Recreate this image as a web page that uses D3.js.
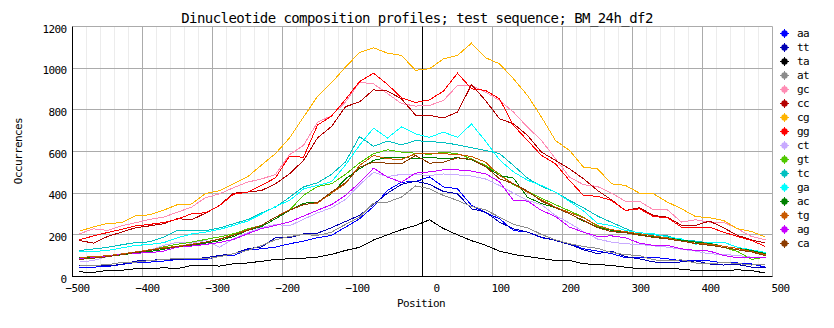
<!DOCTYPE html>
<html>
<head>
<meta charset="utf-8">
<script src="https://cdn.jsdelivr.net/npm/d3@7"></script>
<style>
  html, body { margin: 0; padding: 0; background: #fff; }
  svg { display: block; }
  text { font-family: "DejaVu Sans Mono", "Liberation Mono", monospace; fill: #000; }
</style>
</head>
<body>
<svg id="chart" width="834" height="328"></svg>
<script>
// Window centres (bp relative to the reference position)
const positions = [-490,-470,-450,-430,-410,-390,-370,-350,-330,-310,
                   -290,-270,-250,-230,-210,-190,-170,-150,-130,-110,
                   -90,-70,-50,-30,-10,10,30,50,70,90,
                   110,130,150,170,190,210,230,250,270,290,
                   310,330,350,370,390,410,430,450,470,490];

const dinucleotides = ["aa","tt","ta","at","gc","cc","cg","gg","ct","gt","tc","ga","ac","tg","ag","ca"];
const colors = ["#0000ff","#0000b4","#000000","#8c8c8c","#ff8cb4","#b40000","#ffb400","#ff0000",
                "#c8aaff","#50c800","#00c0c0","#00ffff","#008000","#c85a00","#c800ff","#8c3c00"];

const aa = [42,45,48,58,67,69,74,82,83,80,99,101,128,133,141,157,170,186,197,237,277,336,413,453,455,
            478,430,421,341,307,277,221,213,186,176,157,133,122,110,90,90,92,85,75,78,75,65,65,60,45];
const tt = [53,54,51,58,74,78,81,83,85,90,101,109,133,142,186,186,205,208,234,264,293,346,400,442,458,
            442,408,397,325,309,261,229,213,189,173,154,128,110,122,95,85,70,65,70,75,60,55,58,45,42];
const ta = [22,20,29,30,37,37,42,38,53,53,50,61,65,73,82,85,88,93,106,125,140,175,200,225,245,
            272,230,200,172,150,122,106,96,86,77,77,61,58,53,45,37,37,40,35,29,29,29,32,29,16];
const at = [53,53,57,67,69,76,82,86,86,85,95,110,125,149,176,192,202,197,213,250,285,352,357,381,435,
            421,389,365,336,320,285,250,234,202,176,157,144,135,115,105,100,80,75,80,65,60,68,62,55,60];
const gc = [205,229,221,243,258,274,285,309,333,378,397,426,453,468,490,585,630,740,772,838,932,925,878,830,818,
            821,845,917,917,885,845,789,717,653,565,477,441,432,400,361,361,320,320,261,272,261,261,229,192,176];
const cc = [173,160,192,213,234,243,253,278,272,304,341,400,405,413,445,493,557,665,720,815,838,896,890,853,775,
            773,761,789,921,845,757,733,677,597,557,517,469,413,368,317,330,293,285,245,245,266,234,197,176,160];
const cg = [218,238,255,258,292,296,318,345,348,398,412,445,478,535,590,665,765,865,930,1005,1075,1098,1072,1061,990,
            997,1045,1061,1120,1050,1021,949,869,765,653,605,525,517,445,437,400,397,357,325,288,282,269,229,216,189];
const gg = [176,195,211,226,243,250,259,275,301,306,340,395,405,437,474,578,572,727,770,850,935,976,922,858,835,
            848,890,976,901,893,853,725,653,581,541,461,389,385,365,317,325,288,282,237,234,237,213,192,173,144];
const ct = [69,77,96,109,117,125,149,165,160,173,141,181,210,235,250,243,275,305,330,370,440,500,480,490,490,
            485,492,488,482,468,437,400,365,345,293,256,215,180,165,157,154,147,141,131,122,109,106,101,93,90];
const gt = [88,92,97,106,115,125,142,155,165,178,190,205,228,245,285,318,390,432,445,490,545,589,608,597,592,
            586,597,589,565,533,493,440,408,375,345,315,285,240,222,210,200,190,185,175,165,150,140,120,82,93];
const tc = [125,132,140,152,163,166,189,221,222,220,233,253,273,305,333,380,430,450,490,550,672,625,650,632,652,
            648,643,632,618,605,590,533,472,432,405,365,330,290,260,230,205,200,195,175,170,160,145,135,122,105];
const ga = [118,120,125,137,149,154,162,186,204,213,226,245,266,300,336,365,420,437,455,535,630,712,665,718,685,
            668,693,668,732,650,560,502,462,437,405,360,315,255,245,221,210,205,190,180,155,162,165,140,128,115];
const ac = [90,93,96,104,112,120,130,145,150,160,172,192,221,240,277,317,352,357,397,469,517,557,573,573,565,
            573,565,570,560,528,485,472,380,350,330,301,266,237,221,213,200,190,186,175,165,158,145,135,125,110];
const tg = [92,95,100,108,118,128,138,145,155,165,180,200,224,245,285,320,346,352,400,445,533,581,565,562,589,
            592,589,586,576,549,485,445,405,368,333,307,282,245,225,215,205,195,185,170,160,155,145,135,120,105];
const ag = [85,90,96,106,112,114,122,141,146,154,163,178,205,230,245,262,290,318,345,390,450,520,477,453,496,
            502,512,512,506,493,455,365,362,317,288,237,213,192,195,186,160,149,149,133,125,122,101,90,90,90];
const ca = [82,88,95,105,115,125,135,143,152,165,178,198,221,245,285,318,345,355,405,450,525,549,544,541,581,
            544,549,570,562,528,469,445,410,362,330,301,269,235,215,210,198,188,180,170,158,150,140,128,118,100];

const seriesValues = [aa, tt, ta, at, gc, cc, cg, gg, ct, gt, tc, ga, ac, tg, ag, ca];

const xTicks = [-500,-400,-300,-200,-100,0,100,200,300,400,500];
const xMinor = [-480,-460,-440,-420,-380,-360,-340,-320,-280,-260,-240,-220,-180,-160,-140,-120,
                -80,-60,-40,-20,20,40,60,80,120,140,160,180,220,240,260,280,320,340,360,380,420,440,460,480];
const yTicks = [0,200,400,600,800,1000,1200];

const titleText = "Dinucleotide composition profiles; test sequence; BM_24h_df2";
const xTitle = "Position";
const yTitle = "Occurrences";

const svg = d3.select("#chart");
const x = d3.scaleLinear().domain([-500, 500]).range([72.5, 772.5]);
const y = d3.scaleLinear().domain([0, 1200]).range([276.5, 26.5]);

// minor vertical grid
svg.append("g").selectAll("line").data(xMinor).join("line")
  .attr("x1", d => Math.floor(x(d)) + 0.5).attr("x2", d => Math.floor(x(d)) + 0.5)
  .attr("y1", y(1200)).attr("y2", y(0))
  .attr("stroke", "#ececec").attr("stroke-width", 1);

// major grid
svg.append("g").selectAll("line").data(xTicks.filter(d => d !== -500)).join("line")
  .attr("x1", d => Math.floor(x(d)) + 0.5).attr("x2", d => Math.floor(x(d)) + 0.5)
  .attr("y1", y(1200)).attr("y2", y(0))
  .attr("stroke", "#ababab").attr("stroke-width", 1);
svg.append("g").selectAll("line").data(yTicks.filter(d => d !== 0)).join("line")
  .attr("x1", x(-500)).attr("x2", x(500))
  .attr("y1", d => Math.floor(y(d)) + 0.5).attr("y2", d => Math.floor(y(d)) + 0.5)
  .attr("stroke", "#ababab").attr("stroke-width", 1);

// reference position marker
svg.append("line")
  .attr("x1", Math.floor(x(0)) + 0.5).attr("x2", Math.floor(x(0)) + 0.5)
  .attr("y1", y(1200)).attr("y2", y(0))
  .attr("stroke", "#000").attr("stroke-width", 1);

// series
const line = d3.line().x((d, i) => x(positions[i])).y(d => y(d));
svg.append("g").selectAll("path").data(seriesValues).join("path")
  .attr("d", d => line(d))
  .attr("fill", "none")
  .attr("stroke", (d, i) => colors[i])
  .attr("stroke-width", 1)
  .attr("shape-rendering", "crispEdges");

// axes lines
svg.append("line").attr("x1", x(-500)).attr("x2", x(-500)).attr("y1", y(1200)).attr("y2", y(0) + 0.5)
  .attr("stroke", "#000");
svg.append("line").attr("x1", x(-500)).attr("x2", x(500)).attr("y1", y(0)).attr("y2", y(0))
  .attr("stroke", "#000");

// x axis labels
const xAxis = d3.axisBottom(x).tickValues(xTicks).tickSize(0).tickPadding(0).tickFormat(d3.format("d"));
const gx = svg.append("g").attr("transform", `translate(0,${y(0)})`).call(xAxis);
gx.select(".domain").remove();
gx.selectAll("text")
  .attr("text-anchor", "end")
  .attr("dx", 16.5)
  .attr("y", 15.5).attr("dy", 0)
  .style("font-family", '"DejaVu Sans Mono", monospace')
  .style("font-size", "11px").style("letter-spacing", "-0.6px").style("fill", "#000");

// y axis labels
const yAxis = d3.axisLeft(y).tickValues(yTicks).tickSize(0).tickPadding(0).tickFormat(d3.format("d"));
const gy = svg.append("g").attr("transform", `translate(${x(-500)},0)`).call(yAxis);
gy.select(".domain").remove();
gy.selectAll("text")
  .attr("x", -6).attr("dy", 5.5)
  .attr("text-anchor", "end")
  .style("font-family", '"DejaVu Sans Mono", monospace')
  .style("font-size", "11px").style("letter-spacing", "-0.6px").style("fill", "#000");

// titles
svg.append("text").attr("x", 417).attr("y", 23).attr("text-anchor", "middle")
  .style("font-size", "14px").style("letter-spacing", "-0.57px").text(titleText);
svg.append("text").attr("x", 421).attr("y", 307).attr("text-anchor", "middle")
  .style("font-size", "11px").style("letter-spacing", "-0.6px").text(xTitle);
svg.append("text").attr("transform", "translate(22,151) rotate(-90)").attr("text-anchor", "middle")
  .style("font-size", "11px").style("letter-spacing", "-0.6px").text(yTitle);

// legend
const legend = svg.append("g").selectAll("g").data(dinucleotides).join("g")
  .attr("transform", (d, i) => `translate(784.5,${33.5 + i * 14})`);
legend.append("circle").attr("r", 3.2).attr("fill", (d, i) => colors[i]);
legend.append("path").attr("d", "M-4.5,0H4.5M0,-4.5V4.5")
  .attr("stroke", (d, i) => colors[i]).attr("stroke-width", 1);
legend.append("text").attr("x", 12.5).attr("y", 3.8)
  .style("font-size", "11px").style("letter-spacing", "-0.6px").text(d => d);
</script>
</body>
</html>
